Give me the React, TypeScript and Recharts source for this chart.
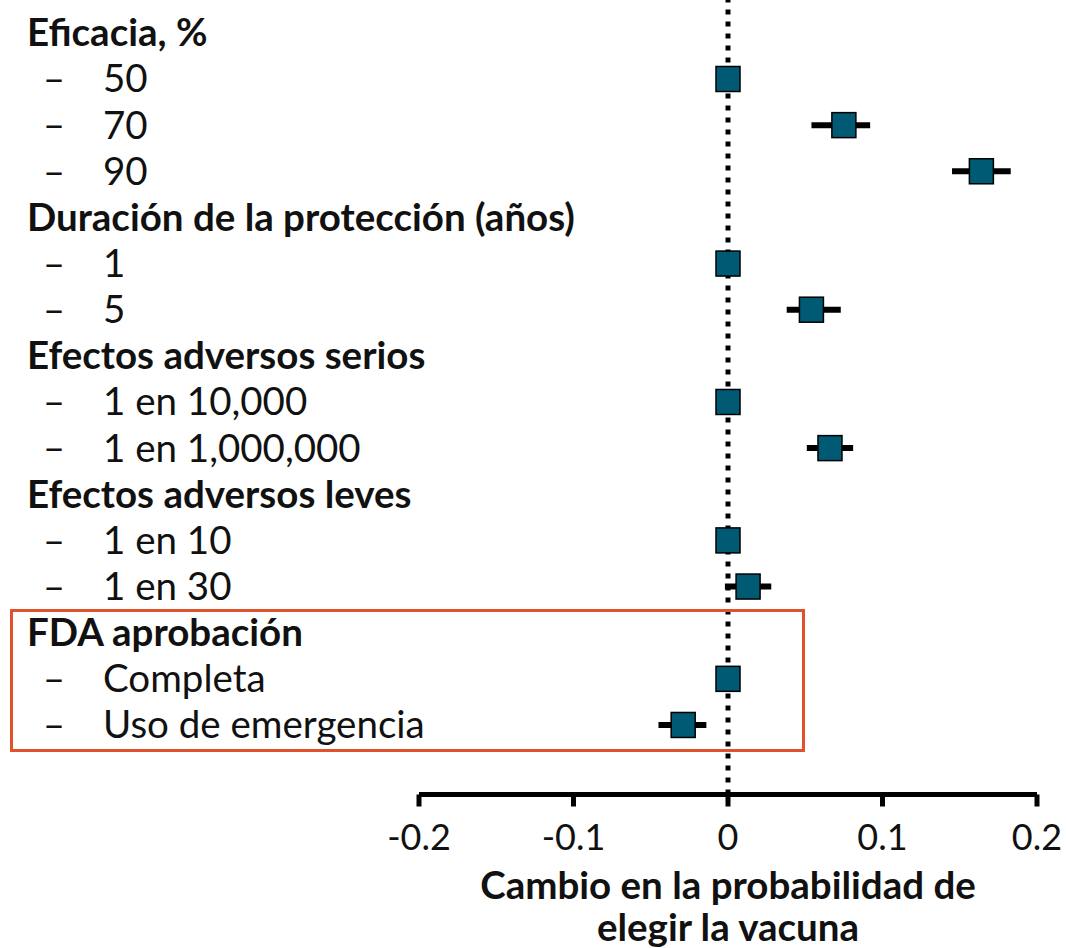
import { ScatterChart, Scatter, XAxis, YAxis, ErrorBar, ReferenceLine } from 'recharts'

// row labels, top to bottom
const rowLabels = [
    'Eficacia, %', '50', '70', '90',
    'Duración de la protección (años)', '1', '5',
    'Efectos adversos serios', '1 en 10,000', '1 en 1,000,000',
    'Efectos adversos leves', '1 en 10', '1 en 30',
    'FDA aprobación', 'Completa', 'Uso de emergencia',
]
const headerRows = [0, 4, 7, 10, 13]

// rows that carry an estimate, with estimate and 95% CI
const pointRows = [1, 2, 3, 5, 6, 8, 9, 11, 12, 14, 15]
const estimates = [0, 0.075, 0.164, 0, 0.054, 0, 0.066, 0, 0.013, 0, -0.029]
const lowerCI = [0, 0.054, 0.145, 0, 0.038, 0, 0.051, 0, -0.002, 0, -0.045]
const upperCI = [0, 0.092, 0.183, 0, 0.073, 0, 0.081, 0, 0.028, 0, -0.014]

const xTicks = [-0.2, -0.1, 0, 0.1, 0.2]
const xTitle = ['Cambio en la probabilidad de', 'elegir la vacuna']

const FONT = 'Lato, "Open Sans", sans-serif'
const MARKER = '#005a74'

const data = pointRows.map((row, i) => ({
    row,
    est: estimates[i],
    ci: [estimates[i] - lowerCI[i], upperCI[i] - estimates[i]],
}))
const rows = rowLabels.map((_, i) => i)

const SquareMarker = (props: any) => {
    const { cx, cy } = props
    return <rect x={cx - 12} y={cy - 12.5} width={24} height={25} fill={MARKER} stroke="#000" strokeWidth={1.5} />
}

const RowLabel = (props: any) => {
    const { y, payload } = props
    const idx = payload.value as number
    const text = rowLabels[idx]
    if (headerRows.includes(idx)) {
        return (
            <text x={27} y={y} dy="0.35em" fontSize={38.5} fontWeight={700} fill="#111" fontFamily={FONT}>{text}</text>
        )
    }
    return (
        <g>
            <text x={43} y={y} dy="0.35em" fontSize={38} fill="#111" fontFamily={FONT}>–</text>
            <text x={103} y={y} dy="0.35em" fontSize={38.5} fill="#111" fontFamily={FONT}>{text}</text>
        </g>
    )
}

const AxisTitle = (props: any) => {
    const vb = props.viewBox || {}
    const cx = vb.x + vb.width / 2
    return (
        <g>
            <text x={cx} y={vb.y + 104} textAnchor="middle" fontSize={38.5} fontWeight={700} fill="#111" fontFamily={FONT}>
                {xTitle[0]}
            </text>
            <text x={cx} y={vb.y + 146} textAnchor="middle" fontSize={38.5} fontWeight={700} fill="#111" fontFamily={FONT}>
                {xTitle[1]}
            </text>
        </g>
    )
}

export default function App() {
    return (
        <div style={{ position: 'absolute', left: 0, top: 0, width: 1066, height: 948, background: '#fff' }}>
            <ScatterChart width={1066} height={948} margin={{ top: 0, right: 29, bottom: 0, left: 0 }}>
                <XAxis
                    type="number"
                    dataKey="est"
                    domain={[-0.2, 0.2]}
                    ticks={xTicks}
                    allowDataOverflow
                    height={153.5}
                    axisLine={{ stroke: '#000', strokeWidth: 5 }}
                    tickLine={{ stroke: '#000', strokeWidth: 5 }}
                    tickSize={12}
                    tickMargin={18}
                    tick={{ fontSize: 36, fill: '#111', fontFamily: FONT }}
                    tickFormatter={(v: number) => String(v)}
                    label={{ content: (p: any) => <AxisTitle {...p} /> }}
                />
                <YAxis
                    type="number"
                    dataKey="row"
                    domain={[-0.712, 16.507]}
                    ticks={rows}
                    allowDataOverflow
                    reversed
                    width={419}
                    axisLine={false}
                    tickLine={false}
                    interval={0}
                    tick={<RowLabel />}
                />
                <ReferenceLine x={0} stroke="#000" strokeWidth={5} strokeDasharray="5 7" />
                <Scatter data={data} shape={<SquareMarker />} isAnimationActive={false}>
                    <ErrorBar dataKey="ci" direction="x" width={0} stroke="#000" strokeWidth={6} />
                </Scatter>
            </ScatterChart>
            <div
                style={{
                    position: 'absolute', left: 10, top: 609, width: 795, height: 143,
                    boxSizing: 'border-box', border: '3px solid #e0522b', pointerEvents: 'none',
                }}
            />
        </div>
    )
}
